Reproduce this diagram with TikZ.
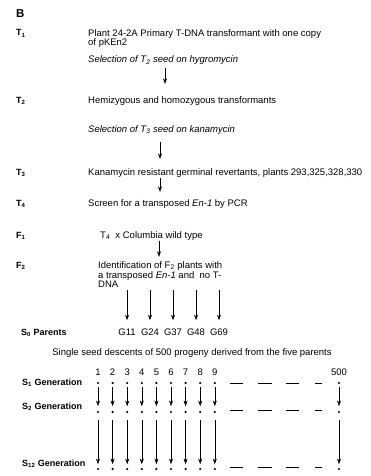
\documentclass[tikz,border=0pt]{standalone}
\usepackage{fontspec}
\setmainfont{Liberation Sans}
\usetikzlibrary{arrows.meta}
\begin{document}
\begin{tikzpicture}[x=1pt, y=-1pt,
    txt/.style={anchor=base west, inner sep=0pt, font=\fontsize{9.5}{9}\selectfont},
    multi/.style={anchor=north west, inner sep=0pt, align=left, font=\fontsize{9.5}{9}\selectfont},
    lbl/.style={anchor=base west, inner sep=0pt, font=\fontsize{9}{10}\selectfont\bfseries},
    flow/.style={-{Stealth[length=5.5pt,width=4pt]}, line width=0.5pt},
    seed/.style={circle, fill, inner sep=0pt, minimum size=2.4pt},
    gap/.style={line width=0.6pt}]
    \useasboundingbox (0,0) rectangle (371,476);

    % Panel letter
    \node (panel) at (16,18) [anchor=base west, inner sep=0pt, font=\fontsize{11.5}{12}\selectfont\bfseries] {B};

    % Generation labels on the left
    \node (lt1) at (16,36) [lbl] {T\textsubscript{1}};
    \node (lt2) at (16,103) [lbl] {T\textsubscript{2}};
    \node (lt3) at (16,175) [lbl] {T\textsubscript{3}};
    \node (lt4) at (16,206) [lbl] {T\textsubscript{4}};
    \node (lf1) at (16,238) [lbl] {F\textsubscript{1}};
    \node (lf2) at (16,268) [lbl] {F\textsubscript{2}};
    \node (ls0) at (21,335) [lbl] {S\textsubscript{0} Parents};

    % Steps of the screen
    \node (plant) at (88,29.3) [multi] {Plant 24-2A Primary T-DNA transformant with one copy\\of pKEn2};
    \node (selT2) at (88,63) [txt] {\itshape Selection of T\textsubscript{2} seed on hygromycin};
    \node (hemi) at (88,103) [txt] {Hemizygous and homozygous transformants};
    \node (selT3) at (88,132) [txt] {\itshape Selection of T\textsubscript{3} seed on kanamycin};
    \node (kana) at (88,175) [txt] {Kanamycin resistant germinal revertants, plants 293,325,328,330};
    \node (screen) at (88,206) [txt] {Screen for a transposed \textit{En-1} by PCR};
    \node (cross) at (100,238) [txt] {T\textsubscript{4}\ \ x\ Columbia wild type};
    \node (ident) at (98,261.3) [multi, font=\fontsize{9.5}{8.3}\selectfont] {Identification of F\textsubscript{2} plants with\\a transposed \textit{En-1} and\ \ no T-\\DNA};

    % Arrows between the steps
    \coordinate (ax1) at (165,0);
    \coordinate (ax2) at (160,0);
    \coordinate (ax4) at (159,0);
    \draw[flow, shorten <=3pt, shorten >=12pt] (selT2.south -| ax1) -- (hemi.north -| ax1);
    \draw[flow, shorten <=8pt, shorten >=9pt] (selT3.south -| ax2) -- (kana.north -| ax2);
    \draw[flow, shorten <=0.5pt, shorten >=7pt] (kana.south -| ax2) -- (screen.north -| ax2);
    \draw[flow, shorten <=0.5pt, shorten >=4.5pt] (cross.south -| ax4) -- (ident.north -| ax4);

    % S0 parents
    \node (g1) at (127,335) [txt, anchor=base] {G11};
    \node (g2) at (150,335) [txt, anchor=base] {G24};
    \node (g3) at (173,335) [txt, anchor=base] {G37};
    \node (g4) at (196,335) [txt, anchor=base] {G48};
    \node (g5) at (219,335) [txt, anchor=base] {G69};
    \foreach \g in {1,...,5}
        \draw[flow, shorten <=2pt, shorten >=8pt] (ident.south -| g\g) -- (g\g.north);

    % Single seed descent
    \node (ssd) at (192,355) [txt, anchor=base] {Single seed descents of 500 progeny derived from the five parents};
    \node (ls1) at (22,385) [lbl] {S\textsubscript{1} Generation};
    \node (ls2) at (22,409) [lbl] {S\textsubscript{2} Generation};
    \node (ls12) at (22,466) [lbl] {S\textsubscript{12} Generation};

    \foreach \i/\x in {1/98, 2/112.6, 3/127.2, 4/141.8, 5/156.4, 6/171, 7/185.6, 8/200.2, 9/214.8, 500/339} {
        \node (n\i) at (\x,375) [txt, anchor=base] {\i};
        \node (s\i a) at (\x,383) [seed] {};
        \node (s\i b) at (\x,412) [seed] {};
        \node (s\i c) at (\x,469) [seed] {};
        \draw[flow, line width=0.4pt, shorten <=3pt, shorten >=4.5pt] (s\i a) -- (s\i b);
        \draw[flow, line width=0.4pt, shorten <=7pt, shorten >=3.5pt] (s\i b) -- (s\i c);
    }

    % Omitted columns
    \foreach \y in {383,410,467}
        \foreach \a/\b in {230/243, 258/272, 286/299, 315/322}
            \draw[gap] (\a,\y) -- (\b,\y);
\end{tikzpicture}
\end{document}
